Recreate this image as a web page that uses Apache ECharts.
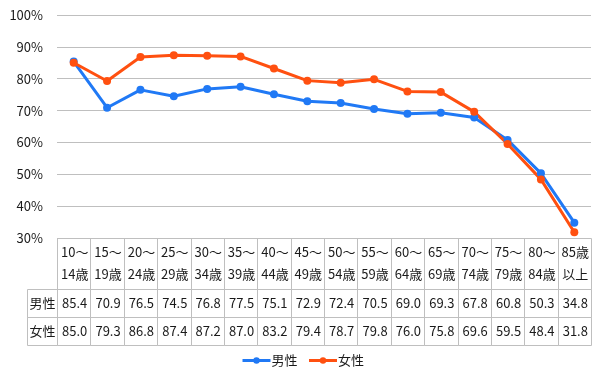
<!DOCTYPE html>
<html><head><meta charset="utf-8">
<script src="https://cdn.jsdelivr.net/npm/echarts@6/dist/echarts.min.js"></script>
<style>html,body{margin:0;padding:0;background:#fff}#c{width:605px;height:386px}</style>
</head><body><div id="c"></div>
<script>
const categories = ['10～\n14歳','15～\n19歳','20～\n24歳','25～\n29歳','30～\n34歳','35～\n39歳','40～\n44歳','45～\n49歳','50～\n54歳','55～\n59歳','60～\n64歳','65～\n69歳','70～\n74歳','75～\n79歳','80～\n84歳','85歳\n以上'];
const male = [85.4,70.9,76.5,74.5,76.8,77.5,75.1,72.9,72.4,70.5,69.0,69.3,67.8,60.8,50.3,34.8];
const female = [85.0,79.3,86.8,87.4,87.2,87.0,83.2,79.4,78.7,79.8,76.0,75.8,69.6,59.5,48.4,31.8];
const seriesNames = ['男性','女性'];
const yTicks = {min:30, max:100, interval:10};

const FONT = '"Noto Sans CJK JP", "Noto Sans", sans-serif';
const TXT = '#1a1a1a';
const BORDER = '#bfbfbf';
const BLUE = '#2079F5';
const ORANGE = '#FF5010';
const rowB = [0, 51, 79, 107];
const labelW = 30;

const chart = echarts.init(document.getElementById('c'));
function px(v){ return Math.round(v) + 0.5; }

chart.setOption({
  animation:false,
  textStyle:{fontFamily:FONT},
  grid:[
    {left:57, right:14, top:15, height:223},
    {left:57, right:14, top:238, height:107}
  ],
  legend:{
    data:seriesNames, bottom:14, left:'center',
    itemWidth:28, itemHeight:8, itemGap:10,
    lineStyle:{width:3},
    textStyle:{fontFamily:FONT, fontSize:13, color:TXT, padding:[0,0,0,-4]}
  },
  xAxis:[
    {type:'category', gridIndex:0, data:categories, boundaryGap:true,
     axisLine:{show:false}, axisTick:{show:false}, axisLabel:{show:false}, splitLine:{show:false}},
    {type:'category', gridIndex:1, data:categories, boundaryGap:true, show:false}
  ],
  yAxis:[
    {type:'value', gridIndex:0, min:yTicks.min, max:yTicks.max, interval:yTicks.interval,
     axisLine:{show:false}, axisTick:{show:false},
     axisLabel:{formatter:'{value}%', fontFamily:FONT, fontSize:13, color:TXT, margin:14},
     splitLine:{lineStyle:{color:BORDER, width:1}}},
    {type:'value', gridIndex:1, min:0, max:107, inverse:true, show:false}
  ],
  series:[
    {name:seriesNames[0], type:'line', data:male, xAxisIndex:0, yAxisIndex:0,
     symbol:'circle', symbolSize:8, lineStyle:{width:3, color:BLUE}, itemStyle:{color:BLUE}},
    {name:seriesNames[1], type:'line', data:female, xAxisIndex:0, yAxisIndex:0,
     symbol:'circle', symbolSize:8, lineStyle:{width:3, color:ORANGE}, itemStyle:{color:ORANGE}},
    {name:'table', type:'custom', xAxisIndex:1, yAxisIndex:1, clip:false, silent:true,
     data:categories.map((c,i)=>[i]),
     renderItem:function(params, api){
       const i = api.value(0);
       const cx = api.coord([i, 0])[0];
       const w = api.size([1, 0])[0];
       const ys = rowB.map(v=>api.coord([0, v])[1]);
       const x0 = px(cx - w/2), x1 = px(cx + w/2);
       const children = [];
       const texts = [categories[i], male[i].toFixed(1), female[i].toFixed(1)];
       for (let r=0; r<3; r++){
         const y0 = px(ys[r]), y1 = px(ys[r+1]);
         children.push({type:'rect', shape:{x:x0, y:y0, width:x1-x0, height:y1-y0},
           style:{fill:null, stroke:BORDER, lineWidth:1}});
         children.push({type:'text', style:{x:cx+1, y:(ys[r]+ys[r+1])/2,
           text:texts[r], align:'center', verticalAlign:'middle',
           font:'13px ' + FONT, fill:TXT, lineHeight:22}});
       }
       if (i === 0){
         const lx0 = px(cx - w/2 - labelW);
         for (let r=1; r<3; r++){
           const y0 = px(ys[r]), y1 = px(ys[r+1]);
           children.push({type:'rect', shape:{x:lx0, y:y0, width:x0-lx0, height:y1-y0},
             style:{fill:null, stroke:BORDER, lineWidth:1}});
           children.push({type:'text', style:{x:(lx0+x0)/2, y:(ys[r]+ys[r+1])/2,
             text:seriesNames[r-1], align:'center', verticalAlign:'middle',
             font:'13px ' + FONT, fill:TXT}});
         }
       }
       return {type:'group', children:children};
     }}
  ]
});
</script></body></html>
